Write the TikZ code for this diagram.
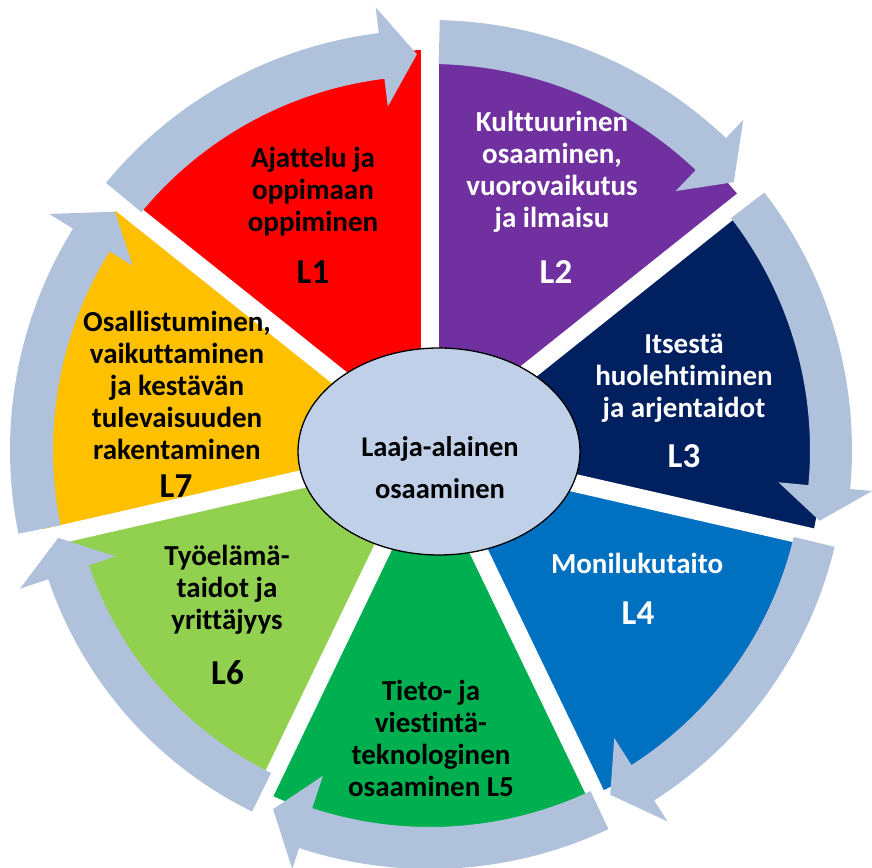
\documentclass[tikz,border=0pt]{standalone}
\usepackage{fontspec}
\setmainfont{Carlito}[Ligatures={TeX,NoCommon}]
\definecolor{arrowc}{RGB}{176,193,220}
\definecolor{corefill}{RGB}{191,208,232}
\definecolor{cL1}{HTML}{FF0000}
\definecolor{cL2}{HTML}{7030A0}
\definecolor{cL3}{HTML}{002060}
\definecolor{cL4}{HTML}{0070C0}
\definecolor{cL5}{HTML}{00B050}
\definecolor{cL6}{HTML}{92D050}
\definecolor{cL7}{HTML}{FFC000}
% wedge: colour, start angle, end angle, radius
\newcommand{\wedgeseg}[4]{\fill[#1] (0,0) -- (#2:#4pt) arc[start angle=#2, end angle=#3, radius=#4pt] -- cycle;}
% arrow: rin, rout, tail angle, head base angle, inner barb r, outer barb r, tip angle, tip r
\newcommand{\cycarrow}[8]{\fill[arrowc] (#3:#2pt) arc[start angle=#3, end angle=#4, radius=#2pt] -- (#4:#6pt) -- (#7:#8pt) -- (#4:#5pt) -- (#4:#1pt) arc[start angle=#4, end angle=#3, radius=#1pt] -- cycle;}
\begin{document}
\begin{tikzpicture}[x=1pt,y=1pt,
  segtext/.style={font=\bfseries\fontsize{29}{32}\selectfont, align=center, inner sep=0pt},
  labtext/.style={font=\bfseries\fontsize{35}{40}\selectfont, inner sep=0pt}]
\useasboundingbox (0,0) rectangle (872,867);
\begin{scope}[shift={(430,417)}]
  \wedgeseg{cL1}{90}{141.43}{400}
  \wedgeseg{cL2}{38.57}{90}{400}
  \wedgeseg{cL3}{-12.86}{38.57}{392}
  \wedgeseg{cL4}{-64.29}{-12.86}{382}
  \wedgeseg{cL5}{-115.71}{-64.29}{380}
  \wedgeseg{cL6}{-167.14}{-115.71}{378}
  \wedgeseg{cL7}{141.43}{192.86}{395}
  \foreach \a in {90,38.57,-12.86,-64.29,-115.71,-167.14,141.43}
    \draw[white,line width=18pt] (0,0) -- (\a:470pt);
  \cycarrow{374}{420}{140.5}{97}{346}{446}{91.9}{396}
  \cycarrow{386}{430}{88.7}{46.5}{357}{455}{41.4}{405}
  \cycarrow{380}{422}{37.6}{-5.3}{350}{444}{-10.3}{396}
  \cycarrow{374}{416}{-13.45}{-57.4}{342}{441}{-62.4}{389}
  \cycarrow{377}{419}{-64.8}{-108.2}{343}{441}{-113.6}{392}
  \cycarrow{360}{403}{-116.2}{-161.3}{332}{433}{-166.7}{382}
  \cycarrow{377}{420}{191.5}{148.2}{350}{448}{142.9}{395}
\end{scope}
\draw[fill=corefill,line width=1.3pt] (439,415.5) ellipse [x radius=141, y radius=103.5];
\node[font=\bfseries\fontsize{28.5}{42}\selectfont, align=center, inner sep=0pt] (core) at (440,399.3) {Laaja-alainen\\osaaminen};
\node[segtext] (t1) at (313,675.5) {Ajattelu ja\\oppimaan\\oppiminen};
\node[labtext] (l1) at (313,594.5) {L1};
\node[segtext,white] (t2) at (552,695.5) {Kulttuurinen\\osaaminen,\\vuorovaikutus\\ja ilmaisu};
\node[labtext,white] (l2) at (556,594.5) {L2};
\node[segtext,white] (t3) at (684,488.7) {Itsestä\\huolehtiminen\\ja arjentaidot};
\node[labtext,white] (l3) at (684,411) {L3};
\node[segtext,white] (t4) at (637,304) {Monilukutaito};
\node[labtext,white] (l4) at (638,254) {L4};
\node[segtext] (t5) at (431,128.7) {Tieto- ja\\viestintä-\\teknologinen\\osaaminen L5};
\node[segtext] (t6) at (227,277) {Työelämä-\\taidot ja\\yrittäjyys};
\node[labtext] (l6) at (227.5,194.5) {L6};
\node[segtext] (t7) at (177,481.8) {Osallistuminen,\\vaikuttaminen\\ja kestävän\\tulevaisuuden\\rakentaminen};
\node[labtext] (l7) at (176,381) {L7};
\end{tikzpicture}
\end{document}
